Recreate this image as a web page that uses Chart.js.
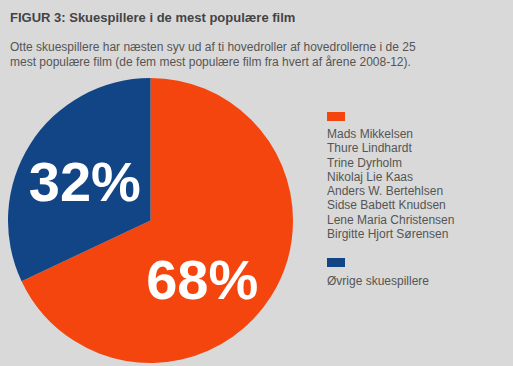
<!DOCTYPE html>
<html>
<head>
<meta charset="utf-8">
<script src="https://cdn.jsdelivr.net/npm/chart.js@4.4.1/dist/chart.umd.min.js"></script>
<style>
  html, body { margin: 0; padding: 0; }
  body {
    width: 513px; height: 366px; background: #d9d9d9; position: relative; overflow: hidden;
    font-family: "Liberation Sans", Arial, sans-serif; color: #555;
  }
  #title { position: absolute; left: 10px; top: 10px; font-size: 13px; font-weight: bold; color: #444; }
  #sub { position: absolute; left: 10px; top: 40px; font-size: 12px; line-height: 15px; }
  #pieBox { position: absolute; left: 8px; top: 78px; width: 285px; height: 285px; }
  #legend { position: absolute; left: 327px; top: 112px; font-size: 12px; line-height: 14.3px; }
  .sw { width: 18px; height: 9px; margin-bottom: 6px; }
  .grp { margin-bottom: 17px; }
  .grp + .grp .sw { margin-bottom: 7px; }
</style>
</head>
<body>
<div id="title">FIGUR 3: Skuespillere i de mest populære film</div>
<div id="sub">Otte skuespillere har næsten syv ud af ti hovedroller af hovedrollerne i de 25<br>mest populære film (de fem mest populære film fra hvert af årene 2008-12).</div>
<div id="pieBox"><canvas id="chartPie"></canvas></div>
<div id="legend"></div>
<script>
// data
const groups = ['Otte skuespillere', 'Øvrige skuespillere'];
const shares = [68, 32];
const colors = ['#f5450f', '#124586'];
const actors = [
    'Mads Mikkelsen',
    'Thure Lindhardt',
    'Trine Dyrholm',
    'Nikolaj Lie Kaas',
    'Anders W. Bertehlsen',
    'Sidse Babett Knudsen',
    'Lene Maria Christensen',
    'Birgitte Hjort Sørensen'
];
const others = ['Øvrige skuespillere'];

// legend
const legendEl = document.getElementById('legend');
[actors, others].forEach((names, i) => {
    const g = document.createElement('div');
    g.className = 'grp';
    g.innerHTML = '<div class="sw" style="background:' + colors[i] + '"></div>' +
        names.map(n => '<div>' + n + '</div>').join('');
    legendEl.appendChild(g);
});

// percent labels inside slices
const pctLabels = {
    id: 'pctLabels',
    afterDatasetsDraw(chart) {
        const ctx = chart.ctx;
        const shift = [0.3, -0.05]; // angle nudge (rad) per slice
        const dist = [0.56, 0.53];
        chart.getDatasetMeta(0).data.forEach((arc, i) => {
            const p = arc.getProps(['x', 'y', 'startAngle', 'endAngle', 'outerRadius'], true);
            const a = (p.startAngle + p.endAngle) / 2 + shift[i];
            const r = p.outerRadius * dist[i];
            ctx.save();
            ctx.fillStyle = '#fff';
            ctx.font = 'bold 56px "Liberation Sans", Arial, sans-serif';
            ctx.textAlign = 'center';
            ctx.textBaseline = 'middle';
            ctx.fillText(shares[i] + '%', p.x + Math.cos(a) * r, p.y + Math.sin(a) * r + 2);
            ctx.restore();
        });
    }
};

const ctxPie = document.getElementById('chartPie').getContext('2d');
const chartPie = new Chart(ctxPie, {
    type: 'pie',
    data: {
        labels: groups,
        datasets: [{
            data: shares,
            backgroundColor: colors,
            borderWidth: 0
        }]
    },
    options: {
        responsive: true,
        maintainAspectRatio: false,
        animation: false,
        layout: { padding: 0 },
        plugins: {
            legend: { display: false },
            tooltip: { enabled: false }
        }
    },
    plugins: [pctLabels]
});
</script>
</body>
</html>
